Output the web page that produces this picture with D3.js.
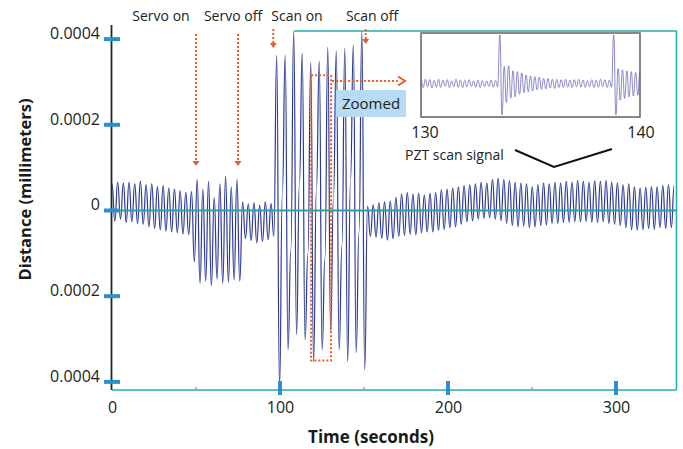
<!DOCTYPE html>
<html><head><meta charset="utf-8">
<script src="https://cdn.jsdelivr.net/npm/d3@7"></script>
<style>body{margin:0;background:#fff}svg{display:block}text{font-family:"Open Sans",sans-serif;fill:#222}</style>
</head><body><svg id="c" width="683" height="449"></svg>
<script>
// ---------------- data ----------------
const UNIT = 1e-4;              // distance values below are in units of 0.0001 mm
const sampleInterval = 1.69;    // seconds between samples
const distance = [
  0.62,-0.25,0.66,-0.2,0.64,-0.28,0.66,-0.26,0.62,-0.3,0.68,-0.32,0.6,-0.38,0.62,-0.42,0.56,-0.45,0.58,-0.48,
  0.52,-0.5,0.5,-0.52,0.46,-0.55,0.42,-0.56,0.44,
  -1.2,0.72,-1.7,0.5,-1.65,0.68,-1.75,0.3,-1.6,0.62,-1.7,0.8,-1.68,0.55,-1.62,0.72,-1.65,
  0.2,-0.65,0.15,-0.7,0.18,-0.75,0.12,-0.72,0.2,-0.68,0.16,-0.6,
  3.62,-4.15,0.4,3.62,-3.25,-0.9,4.18,-2.9,0.6,3.67,-3.02,-1.0,3.46,-3.53,0.5,3.48,-3.25,-1.1,3.81,-2.83,
  0.3,3.72,-3.25,-0.8,3.79,-3.53,0.7,3.86,-3.32,-0.5,4.18,-3.72,
  0.1,-0.6,0.13,-0.62,0.18,-0.65,0.2,-0.69,0.22,-0.66,0.3,-0.6,0.38,-0.58,0.42,-0.55,0.38,-0.57,0.4,-0.52,
  0.36,-0.5,0.4,-0.5,0.42,-0.46,0.48,-0.44,0.5,-0.4,0.52,-0.38,0.55,-0.32,0.58,-0.26,0.6,-0.24,0.62,-0.2,
  0.66,-0.18,0.64,-0.17,0.72,-0.2,0.75,-0.24,0.72,-0.3,0.7,-0.35,0.66,-0.38,0.64,-0.36,0.62,-0.4,0.55,-0.38,
  0.6,-0.35,0.64,-0.34,0.62,-0.3,0.66,-0.3,0.64,-0.28,0.68,-0.27,0.66,-0.26,0.7,-0.27,0.68,-0.25,0.66,-0.27,
  0.69,-0.28,0.68,-0.26,0.7,-0.3,0.66,-0.32,0.64,-0.35,0.6,-0.4,0.62,-0.45,0.55,-0.46,0.52,-0.45,0.54,-0.42,
  0.56,-0.44,0.55,-0.4,0.58,-0.42,0.6,-0.4,0.58
];
const yTickValues = [0.0004, 0.0002, 0, -0.0002, -0.0004];
const yTickLabels = ["0.0004", "0.0002", "0", "0.0002", "0.0004"];
const xTickValues = [0, 100, 200, 300];
const xTickLabels = ["0", "100", "200", "300"];
const xMinorTicks = [50, 150, 250];
const events = [
  {label: "Servo on",  t: 50,  long: true},
  {label: "Servo off", t: 75,  long: true},
  {label: "Scan on",   t: 96,  long: false},
  {label: "Scan off",  t: 151, long: false}
];
const zoomWindow = {t0: 118.5, t1: 130.4, top: 0.000316, bottom: -0.00035};
const insetRange = [130, 140];
const insetStep = 0.1;
const insetSignal = [
  0.08,-0.1,0.1,-0.08,0.09,-0.11,0.07,-0.09,0.1,-0.1,0.08,-0.07,0.09,-0.1,0.06,-0.08,0.1,-0.09,0.08,-0.1,
  0.07,-0.08,0.09,-0.07,0.06,-0.09,0.08,-0.1,0.07,-0.08,0.06,-0.07,0.08,-0.09,0.07,-0.08,
  1.15,-0.75,0.4,-0.45,0.42,-0.35,0.3,-0.32,0.28,-0.26,0.25,-0.22,0.2,-0.2,0.18,-0.18,0.16,-0.15,0.15,-0.14,
  0.12,-0.13,0.12,-0.11,0.1,-0.12,0.1,-0.1,0.09,-0.1,0.1,-0.09,0.08,-0.1,0.09,-0.08,0.1,-0.09,0.08,-0.1,
  0.07,-0.08,0.09,-0.1,0.08,-0.09,0.1,-0.08,0.09,-0.1,0.08,-0.09,
  1.15,-0.75,0.35,-0.4,0.32,-0.36,0.3,-0.32,0.28,-0.3,0.26,-0.28,0.25
];

// ---------------- drawing ----------------
const svg = d3.select("#c");
const L = 112, R = 676.5, T = 31, B = 390;
const x = d3.scaleLinear().domain([0, 336]).range([L, R]);
const y = d3.scaleLinear().domain([-0.000419, 0.000419]).range([B, T]);
const TEAL = "#27aeb0", TICKBLUE = "#2a90cf", RED = "#f15a24", SIG = "#2c3a94";

// frame
svg.append("line").attr("x1", L).attr("x2", R).attr("y1", B).attr("y2", B).attr("stroke", TEAL).attr("stroke-width", 1.6);
svg.append("line").attr("x1", R).attr("x2", R).attr("y1", T).attr("y2", B).attr("stroke", TEAL).attr("stroke-width", 1.6);
svg.append("line").attr("x1", 294).attr("x2", R).attr("y1", T).attr("y2", T).attr("stroke", TEAL).attr("stroke-width", 1.6);

// main signal
const line = d3.line().curve(d3.curveBumpX).x((d, i) => x(i * sampleInterval)).y(d => y(d * UNIT));
svg.append("path").datum(distance).attr("d", line).attr("fill", "none")
  .attr("stroke", SIG).attr("stroke-width", 1.2);

// zero line
svg.append("line").attr("x1", L).attr("x2", R).attr("y1", y(0)).attr("y2", y(0)).attr("stroke", "#2a9fa6").attr("stroke-width", 1.8);

// left axis line
svg.append("line").attr("x1", 111.5).attr("x2", 111.5).attr("y1", 25).attr("y2", B).attr("stroke", "#1b2b2b").attr("stroke-width", 1.8);

// y ticks
const yAxis = d3.axisLeft(y).tickValues(yTickValues).tickSize(0).tickFormat((d, i) => yTickLabels[i]);
const gy = svg.append("g").attr("transform", `translate(${L},0)`).call(yAxis);
gy.select(".domain").remove();
gy.selectAll("text").attr("x", -12).attr("dy", "-0.05em").style("font-size", "16px").style("fill", "#222");
svg.selectAll(".ytk").data(yTickValues).join("rect").attr("class", "ytk")
  .attr("x", 104).attr("width", 16).attr("y", d => y(d) - 2).attr("height", 4).attr("fill", TICKBLUE);

// x ticks
const xAxis = d3.axisBottom(x).tickValues(xTickValues).tickSize(0).tickFormat((d, i) => xTickLabels[i]);
const gx = svg.append("g").attr("transform", `translate(0,${B})`).call(xAxis);
gx.select(".domain").remove();
gx.selectAll("text").attr("y", 12).style("font-size", "16px").style("fill", "#222");
svg.selectAll(".xtk").data(xTickValues.filter(d => d > 0)).join("rect").attr("class", "xtk")
  .attr("x", d => x(d) - 2).attr("width", 4).attr("y", 381).attr("height", 14).attr("fill", TICKBLUE);
svg.selectAll(".xmn").data(xMinorTicks).join("line").attr("class", "xmn")
  .attr("x1", d => x(d)).attr("x2", d => x(d)).attr("y1", 387).attr("y2", 390).attr("stroke", RED).attr("stroke-width", 1);

// axis titles
svg.append("text").attr("x", 371).attr("y", 443).attr("text-anchor", "middle")
  .style("font-size", "17px").style("font-weight", "bold").style("fill", "#1a1a1a").text("Time (seconds)");
svg.append("text").attr("transform", "translate(31,189.5) rotate(-90)").attr("text-anchor", "middle")
  .style("font-size", "16.5px").style("font-weight", "bold").style("fill", "#1a1a1a").text("Distance (millimeters)");

// event labels and arrows
const labelX = [161, 233, 297, 372];
events.forEach((e, i) => {
  svg.append("text").attr("x", labelX[i]).attr("y", 21).attr("text-anchor", "middle").style("font-size", "14px").text(e.label);
  const ax = x(e.t);
  const y0 = e.long ? 34 : 29, y1 = e.long ? 166 : (i === 2 ? 48 : 44);
  svg.append("line").attr("x1", ax).attr("x2", ax).attr("y1", y0).attr("y2", y1 - 4)
    .attr("stroke", RED).attr("stroke-width", 2).attr("stroke-dasharray", "2,2");
  svg.append("path").attr("d", `M${ax - 3.5},${y1 - 5}L${ax + 3.5},${y1 - 5}L${ax},${y1}Z`).attr("fill", RED);
});

// zoom window rectangle and arrow
const zx0 = x(zoomWindow.t0), zx1 = x(zoomWindow.t1), zy0 = y(zoomWindow.top), zy1 = y(zoomWindow.bottom);
svg.append("rect").attr("x", zx0).attr("y", zy0).attr("width", zx1 - zx0).attr("height", zy1 - zy0)
  .attr("fill", "none").attr("stroke", RED).attr("stroke-width", 2).attr("stroke-dasharray", "2,2");
svg.append("line").attr("x1", zx1 + 1).attr("x2", 398).attr("y1", 81).attr("y2", 81)
  .attr("stroke", RED).attr("stroke-width", 2).attr("stroke-dasharray", "2,2");
svg.append("path").attr("d", "M398,76.5L405,81L398,85.5").attr("fill", "none").attr("stroke", RED).attr("stroke-width", 2);

svg.append("rect").attr("x", 336).attr("y", 90).attr("width", 70).attr("height", 27).attr("fill", "#b6dbf2");
svg.append("text").attr("x", 371).attr("y", 109).attr("text-anchor", "middle").style("font-size", "15px").text("Zoomed");

// inset
const ix = d3.scaleLinear().domain(insetRange).range([421, 640]);
const iy = d3.scaleLinear().domain([-0.8, 1.2]).range([117, 33]);
svg.append("rect").attr("x", 421).attr("y", 33).attr("width", 219).attr("height", 84).attr("fill", "#fff");
const iline = d3.line().curve(d3.curveBumpX).x((d, i) => ix(insetRange[0] + i * insetStep)).y(d => iy(d));
svg.append("path").datum(insetSignal).attr("d", iline).attr("fill", "none")
  .attr("stroke", "#6e6ebd").attr("stroke-width", 0.9).attr("stroke-opacity", 0.9);
svg.append("rect").attr("x", 421).attr("y", 33).attr("width", 219).attr("height", 84)
  .attr("fill", "none").attr("stroke", "#555").attr("stroke-width", 1.4);
svg.append("line").attr("x1", 421).attr("x2", 640).attr("y1", 33).attr("y2", 33).attr("stroke", "#8a8a8a").attr("stroke-width", 2);
insetRange.forEach(v => {
  svg.append("text").attr("x", ix(v) + (v === insetRange[0] ? 4 : 1)).attr("y", 137.5).attr("text-anchor", "middle")
    .style("font-size", "16px").text(String(v));
});
svg.append("text").attr("x", 405).attr("y", 160).style("font-size", "14px").text("PZT scan signal");
svg.append("path").attr("d", "M515,150L554,167L612,149").attr("fill", "none").attr("stroke", "#111").attr("stroke-width", 2);
</script></body></html>
